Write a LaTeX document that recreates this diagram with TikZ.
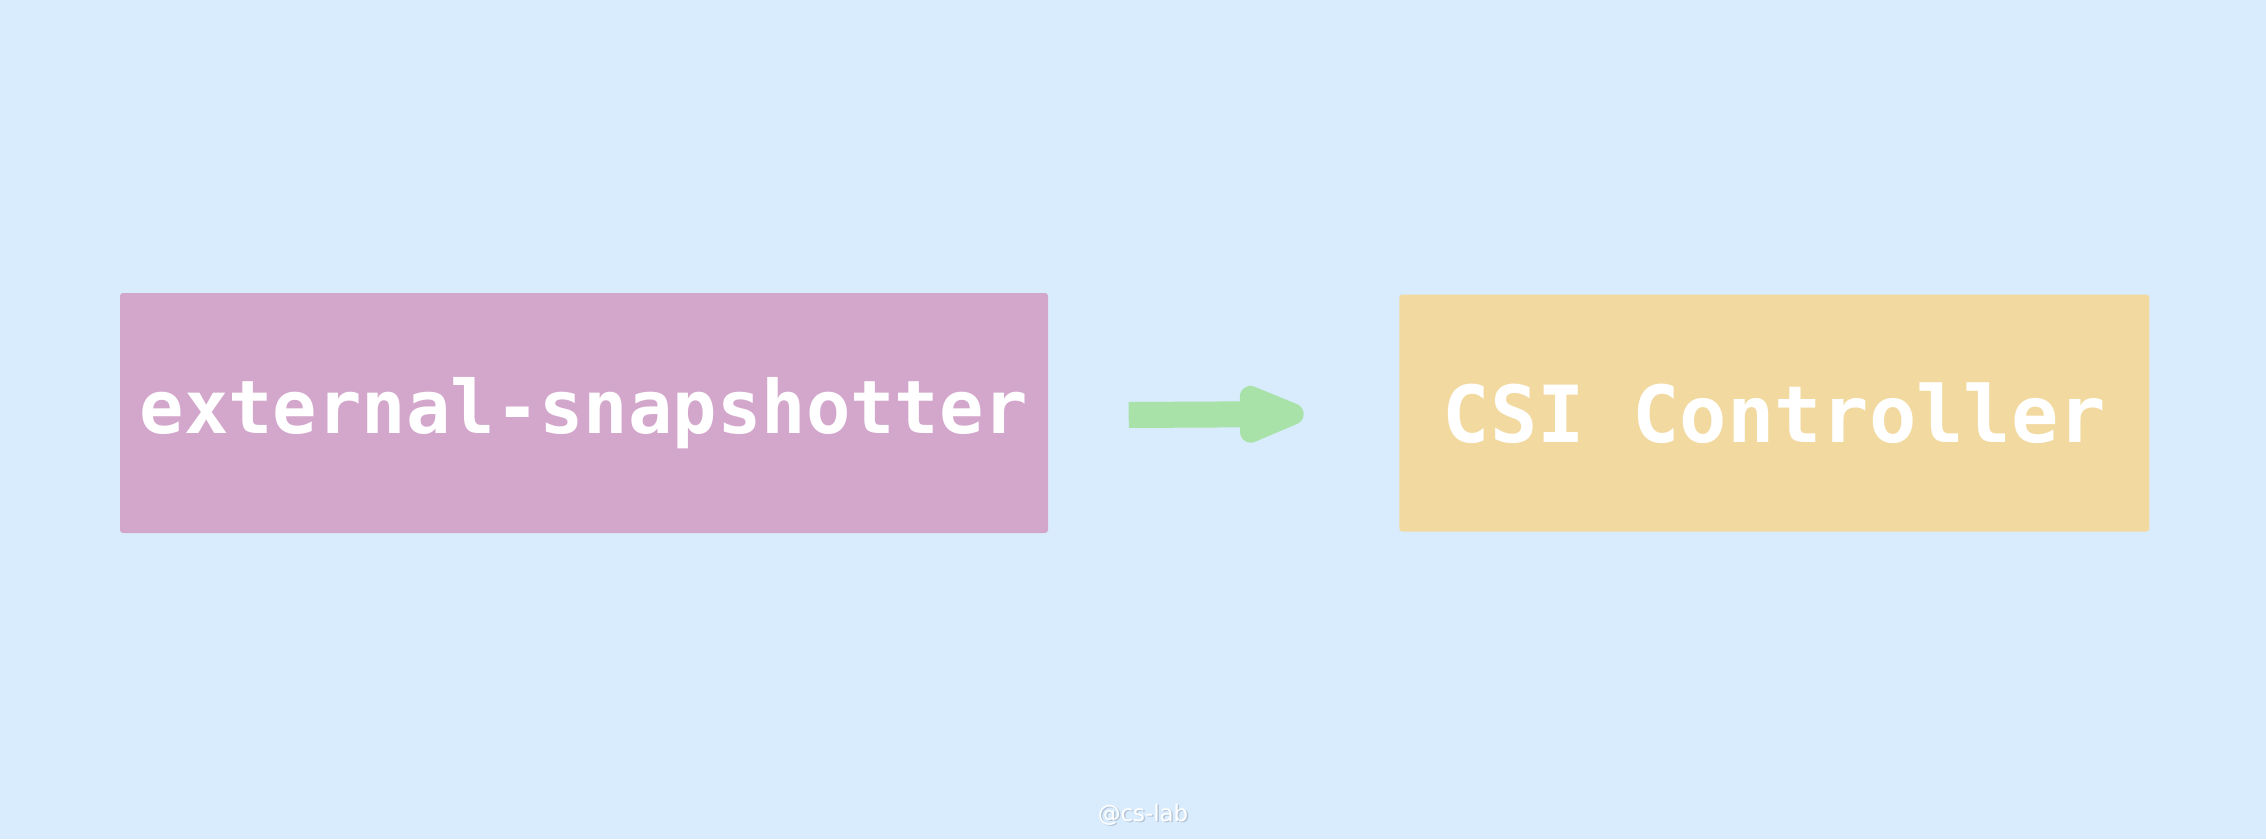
\documentclass[tikz,border=0pt]{standalone}
\usepackage{xcolor}
\usepackage{fontspec}
\usepackage{tikz}
\usetikzlibrary{positioning, arrows.meta, calc}
\newfontfamily\handfont{DejaVu Sans Mono}
\newfontfamily\markfont{DejaVu Sans}
\definecolor{skyblue}{HTML}{D9ECFD}
\definecolor{pastelpurple}{HTML}{D3A6CB}
\definecolor{pastelyellow}{HTML}{F2D9A0}
\definecolor{pastelgreen}{HTML}{A8E2A8}
\definecolor{shadowblue}{HTML}{B4C6D8}

\begin{document}
\begin{tikzpicture}[box/.style={rounded corners=0.03cm, inner sep=0pt, minimum height=2.4cm, text=white, font=\handfont\bfseries\fontsize{21}{25}\selectfont}]
			\fill[skyblue] (0,0) rectangle (22.66,8.39);
			\useasboundingbox (0,0) rectangle (22.66,8.39);
			\node[box, fill=pastelpurple, minimum width=9.28cm] (snap) at (5.84,4.26) {external-snapshotter};
			\node[box, fill=pastelyellow, minimum width=7.5cm, minimum height=2.37cm, right=3.5cm of snap, font=\handfont\bfseries\fontsize{22.4}{26}\selectfont] (csi) {CSI Controller};
			\draw[pastelgreen, line width=0.26cm, -{Triangle[length=0.85cm, width=0.6cm, round]}] ($(snap.east)+(0.8,-0.02)$) -- ($(csi.west)+(-0.95,-0.01)$);
			\node[text=shadowblue, font=\markfont\fontsize{6.5}{8}\selectfont] (markshadow) at (11.445,0.23) {@cs-lab};
			\node[text=white, font=\markfont\fontsize{6.5}{8}\selectfont] (mark) at (11.43,0.24) {@cs-lab};
			\end{tikzpicture}
\end{document}
